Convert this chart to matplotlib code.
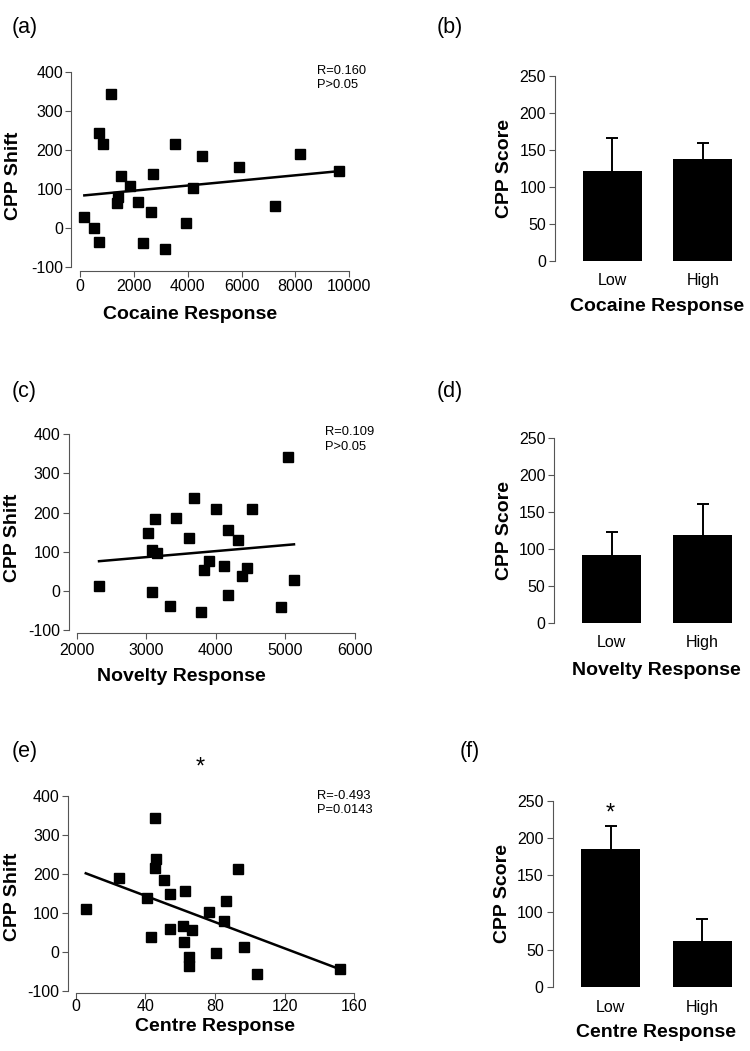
import numpy as np
import matplotlib
matplotlib.use("Agg")
import matplotlib.pyplot as plt

plt.rcParams['font.family'] = ['Liberation Sans', 'DejaVu Sans']
plt.rcParams['axes.unicode_minus'] = False

# ---------------- data ----------------
cocaine_x = [161, 520, 705, 705, 842, 1151, 1361, 1399, 1535, 1856, 2141, 2351,
             2649, 2723, 3144, 3527, 3923, 4208, 4530, 5916, 7252, 8168, 9616]
cocaine_y = [27, 0, -37, 242, 215, 344, 63, 79, 132, 108, 66, -38,
             41, 138, -54, 214, 13, 101, 184, 156, 56, 188, 145]
cocaine_fit = (0.00657, 81.8)  # slope, intercept

novelty_x = [2321, 3020, 3078, 3078, 3126, 3150, 3341, 3423, 3614, 3691, 3782, 3835,
             3907, 4002, 4122, 4180, 4180, 4324, 4372, 4443, 4519, 4932, 5042, 5123]
novelty_y = [13, 147, 105, -2, 184, 98, -38, 187, 136, 236, -53, 53,
             76, 209, 64, 155, -11, 130, 39, 59, 209, -40, 341, 28]
novelty_fit = (0.01537, 40.1)

centre_x = [5.9, 25.1, 41.2, 43.1, 45.4, 45.4, 46.4, 50.8, 54.0, 54.0, 61.5, 62.3,
            63.0, 65.1, 65.1, 67.1, 76.8, 80.5, 85.3, 86.4, 93.1, 96.8, 103.9, 151.8]
centre_y = [109, 190, 138, 38, 343, 214, 238, 183, 147, 59, 66, 26,
            156, -13, -36, 56, 101, -4, 80, 130, 211, 12, -56, -44]
centre_fit = (-1.687, 211.0)

stats_a = "R=0.160\nP>0.05"
stats_c = "R=0.109\nP>0.05"
stats_e = "R=-0.493\nP=0.0143"

groups = ['Low', 'High']
cocaine_bar = [121, 138]
cocaine_err = [45, 22]
novelty_bar = [91, 119]
novelty_err = [31, 41]
centre_bar = [186, 61]
centre_err = [30, 30]

W, H = 750, 1051
fig = plt.figure(figsize=(W / 100, H / 100), dpi=100)


def px_rect(left, top, right, bottom):
    return [left / W, 1 - bottom / H, (right - left) / W, (bottom - top) / H]


SPINE_C = '#555555'
TICK_FS = 11.5
LAB_FS = 14


def scatter_panel(rect, x, y, fit, xlim, xticks, xlabel, stats, stat_pos,
                  off_left, off_bottom, xpad, ypad, xlab_pos, ylab_pos):
    ax = fig.add_axes(px_rect(*rect))
    ax.plot(x, y, 's', color='black', ms=7.8, clip_on=False, zorder=3)
    xs = np.array([min(x), max(x)])
    ax.plot(xs, fit[0] * xs + fit[1], color='black', lw=1.8, zorder=2)
    ax.set_xlim(*xlim)
    ax.set_ylim(-100, 400)
    ax.set_xticks(xticks)
    ax.set_yticks([-100, 0, 100, 200, 300, 400])
    for s in ['top', 'right']:
        ax.spines[s].set_visible(False)
    ax.spines['left'].set_position(('outward', off_left))
    ax.spines['bottom'].set_position(('outward', off_bottom))
    ax.spines['left'].set_bounds(-100, 400)
    ax.spines['bottom'].set_bounds(xlim[0], xlim[1])
    for s in ['left', 'bottom']:
        ax.spines[s].set_color(SPINE_C)
        ax.spines[s].set_linewidth(0.8)
    ax.tick_params(axis='both', direction='out', length=4, width=0.8,
                   color=SPINE_C, labelsize=TICK_FS)
    ax.tick_params(axis='x', pad=xpad)
    ax.tick_params(axis='y', pad=ypad)
    ax.set_xlabel(xlabel, fontsize=LAB_FS, fontweight='bold', va='top')
    ax.set_ylabel('CPP Shift', fontsize=LAB_FS, fontweight='bold')
    ax.xaxis.set_label_coords(*xlab_pos)
    ax.yaxis.set_label_coords(*ylab_pos)
    ax.text(stat_pos[0], stat_pos[1], stats, transform=ax.transAxes,
            fontsize=9.3, va='top', ha='left', linespacing=1.25)
    return ax


def bar_panel(rect, vals, errs, xlabel, xpad, ylab_x, xlab_y, star=None):
    ax = fig.add_axes(px_rect(*rect))
    pos = np.arange(len(vals))
    tops = np.add(vals, errs)
    ax.vlines(pos, vals, tops, color='black', lw=1.4, zorder=1)
    ax.plot(pos, tops, linestyle='none', marker='_', ms=9, mew=1.4,
            color='black', zorder=1)
    ax.bar(pos, vals, width=0.65, color='black', zorder=2)
    ax.set_xlim(-0.63, 1.41)
    ax.set_ylim(0, 250)
    ax.set_yticks([0, 50, 100, 150, 200, 250])
    ax.set_xticks(pos)
    ax.set_xticklabels(groups)
    for s in ['top', 'right', 'bottom']:
        ax.spines[s].set_visible(False)
    ax.spines['left'].set_color(SPINE_C)
    ax.spines['left'].set_linewidth(0.8)
    ax.tick_params(axis='y', direction='out', length=4, width=0.8,
                   color=SPINE_C, labelsize=TICK_FS, pad=2.5)
    ax.tick_params(axis='x', length=0, labelsize=TICK_FS, pad=xpad)
    ax.set_xlabel(xlabel, fontsize=LAB_FS, fontweight='bold', va='top')
    ax.set_ylabel('CPP Score', fontsize=LAB_FS, fontweight='bold')
    ax.xaxis.set_label_coords(0.55, xlab_y)
    ax.yaxis.set_label_coords(ylab_x, 0.5)
    if star is not None:
        ax.text(star[0], star[1], '*', fontsize=17, ha='center', va='center',
                clip_on=False)
    return ax


# scatter panels
scatter_panel((80, 71.7, 349.3, 266.7), cocaine_x, cocaine_y, cocaine_fit,
              (0, 10000), [0, 2000, 4000, 6000, 8000, 10000], 'Cocaine Response',
              stats_a, (0.879, 1.035), 6.5, 3.0, 1.5, 1.6,
              (0.408, -0.2), (-0.215, 0.465))
scatter_panel((76.7, 434.3, 355, 630), novelty_x, novelty_y, novelty_fit,
              (2000, 6000), [2000, 3000, 4000, 5000, 6000], 'Novelty Response',
              stats_c, (0.892, 1.04), 5.3, 2.2, 3.5, 2.7,
              (0.375, -0.195), (-0.2, 0.47))
ax_e = scatter_panel((75.5, 795.7, 354.3, 990.7), centre_x, centre_y, centre_fit,
                     (0, 160), [0, 40, 80, 120, 160], 'Centre Response',
                     stats_e, (0.865, 1.03), 5.4, 1.9, 0.0, 2.0,
                     (0.5, -0.14), (-0.195, 0.48))
ax_e.text(71.3, 472, '*', fontsize=17, ha='center', va='center', clip_on=False)

# bar panels
bar_panel((555, 75.7, 740, 261.3), cocaine_bar, cocaine_err, 'Cocaine Response',
          8.5, -0.225, -0.2)
bar_panel((554.3, 437.7, 740, 622.7), novelty_bar, novelty_err, 'Novelty Response',
          9.0, -0.225, -0.21)
bar_panel((552.7, 801, 740, 986.7), centre_bar, centre_err, 'Centre Response',
          9.5, -0.222, -0.2, star=(0, 233))

# panel letters
for lab, x, y in [('(a)', 12, 28), ('(b)', 437, 28), ('(c)', 12, 392),
                  ('(d)', 437, 392), ('(e)', 12, 752), ('(f)', 460, 752)]:
    fig.text(x / W, 1 - y / H, lab, fontsize=15.5, ha='left', va='center')

fig.savefig('out.png', dpi=100)
